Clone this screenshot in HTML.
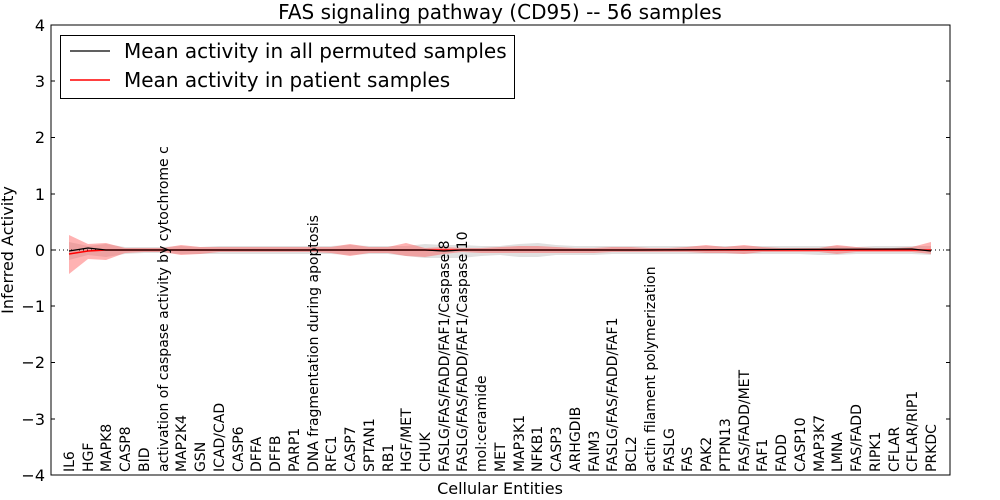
<!DOCTYPE html>
<html><head><meta charset="utf-8"><style>body{margin:0;background:#fff}svg{display:block}text{font-family:"DejaVu Sans",sans-serif}</style></head><body>
<svg width="1000" height="500" xmlns="http://www.w3.org/2000/svg">
<rect width="1000" height="500" fill="#fff"/>
<text x="500" y="19" font-size="20" text-anchor="middle">FAS signaling pathway (CD95) -- 56 samples</text>
<path d="M69,242 L88,246 L106,244 L125,247 L144,247 L163,247 L181,246 L200,247 L219,246 L238,246 L256,246 L275,246 L294,246 L313,246 L331,246 L350,245 L369,246 L388,246 L406,246 L425,244 L444,245 L462,245 L481,246 L500,246 L519,244 L538,243 L556,245 L575,246 L594,246 L612,246 L631,246 L650,246 L669,246 L687,246 L706,246 L725,246 L744,246 L762,246 L781,246 L800,246 L819,246 L837,246 L856,247 L875,246 L894,246 L912,246 L931,246 L931,255 L912,254 L894,254 L875,254 L856,254 L837,255 L819,255 L800,254 L781,254 L762,254 L744,254 L725,254 L706,254 L687,254 L669,254 L650,254 L631,254 L612,254 L594,255 L575,255 L556,255 L538,257 L519,257 L500,255 L481,256 L462,258 L444,258 L425,258 L406,256 L388,254 L369,254 L350,255 L331,254 L313,254 L294,254 L275,254 L256,254 L238,254 L219,254 L200,254 L181,254 L163,253 L144,253 L125,254 L106,257 L88,255 L69,260 Z" fill="#ccc" opacity="0.6"/>
<path d="M69,235 L88,244 L106,243 L125,248 L144,248 L163,248 L181,245 L200,247 L219,247 L238,247 L256,247 L275,247 L294,247 L313,247 L331,247 L350,244 L369,247 L388,247 L406,243 L425,248 L444,247 L462,248 L481,248 L500,247 L519,246 L538,246 L556,247 L575,248 L594,248 L612,247 L631,247 L650,248 L669,248 L687,247 L706,245 L725,247 L744,245 L762,247 L781,248 L800,248 L819,248 L837,245 L856,247 L875,248 L894,248 L912,247 L931,242 L931,254 L912,252 L894,252 L875,252 L856,252 L837,254 L819,252 L800,252 L781,252 L762,252 L744,254 L725,253 L706,253 L687,252 L669,252 L650,252 L631,252 L612,252 L594,253 L575,253 L556,253 L538,253 L519,253 L500,253 L481,253 L462,252 L444,254 L425,257 L406,256 L388,253 L369,253 L350,256 L331,253 L313,252 L294,252 L275,252 L256,252 L238,252 L219,252 L200,254 L181,255 L163,252 L144,252 L125,253 L106,260 L88,259 L69,274 Z" fill="#f55" opacity="0.45"/>
<line x1="51" y1="250" x2="950" y2="250" stroke="#000" stroke-dasharray="1,3" stroke-width="1"/>
<polyline points="69,254 88,251 106,250 125,250 931,250" fill="none" stroke="red" stroke-width="1.5"/>
<polyline points="69,251 88,248 106,250 125,250 425,250 444,251 462,250 612,250 631,250 912,249 931,251" fill="none" stroke="#000" stroke-width="1.2"/>
<rect x="51" y="25" width="899" height="450" fill="none" stroke="#000" stroke-width="1"/>
<g stroke="#000">
<line x1="51" y1="81" x2="55" y2="81"/><line x1="51" y1="137.5" x2="55" y2="137.5"/><line x1="51" y1="194" x2="55" y2="194"/><line x1="51" y1="250" x2="55" y2="250"/><line x1="51" y1="306" x2="55" y2="306"/><line x1="51" y1="362.5" x2="55" y2="362.5"/><line x1="51" y1="419" x2="55" y2="419"/>
<line x1="950" y1="81" x2="946" y2="81"/><line x1="950" y1="137.5" x2="946" y2="137.5"/><line x1="950" y1="194" x2="946" y2="194"/><line x1="950" y1="250" x2="946" y2="250"/><line x1="950" y1="306" x2="946" y2="306"/><line x1="950" y1="362.5" x2="946" y2="362.5"/><line x1="950" y1="419" x2="946" y2="419"/>
</g>
<g font-size="16" text-anchor="end">
<text x="45" y="31">4</text><text x="45" y="87">3</text><text x="45" y="143">2</text><text x="45" y="200">1</text><text x="45" y="256">0</text><text x="45" y="312">−1</text><text x="45" y="368">−2</text><text x="45" y="425">−3</text><text x="45" y="481">−4</text>
</g>
<text transform="translate(13,250) rotate(-90)" font-size="16" text-anchor="middle">Inferred Activity</text>
<text x="500" y="494" font-size="16" text-anchor="middle">Cellular Entities</text>
<g font-size="14">
<text transform="translate(74,472) rotate(-90)">IL6</text>
<text transform="translate(93,472) rotate(-90)">HGF</text>
<text transform="translate(111,472) rotate(-90)">MAPK8</text>
<text transform="translate(130,472) rotate(-90)">CASP8</text>
<text transform="translate(149,472) rotate(-90)">BID</text>
<text transform="translate(168,472) rotate(-90)">activation of caspase activity by cytochrome c</text>
<text transform="translate(186,472) rotate(-90)">MAP2K4</text>
<text transform="translate(205,472) rotate(-90)">GSN</text>
<text transform="translate(224,472) rotate(-90)">ICAD/CAD</text>
<text transform="translate(243,472) rotate(-90)">CASP6</text>
<text transform="translate(261,472) rotate(-90)">DFFA</text>
<text transform="translate(280,472) rotate(-90)">DFFB</text>
<text transform="translate(299,472) rotate(-90)">PARP1</text>
<text transform="translate(318,472) rotate(-90)">DNA fragmentation during apoptosis</text>
<text transform="translate(336,472) rotate(-90)">RFC1</text>
<text transform="translate(355,472) rotate(-90)">CASP7</text>
<text transform="translate(374,472) rotate(-90)">SPTAN1</text>
<text transform="translate(393,472) rotate(-90)">RB1</text>
<text transform="translate(411,472) rotate(-90)">HGF/MET</text>
<text transform="translate(430,472) rotate(-90)">CHUK</text>
<text transform="translate(449,472) rotate(-90)">FASLG/FAS/FADD/FAF1/Caspase 8</text>
<text transform="translate(467,472) rotate(-90)">FASLG/FAS/FADD/FAF1/Caspase 10</text>
<text transform="translate(486,472) rotate(-90)">mol:ceramide</text>
<text transform="translate(505,472) rotate(-90)">MET</text>
<text transform="translate(524,472) rotate(-90)">MAP3K1</text>
<text transform="translate(542,472) rotate(-90)">NFKB1</text>
<text transform="translate(561,472) rotate(-90)">CASP3</text>
<text transform="translate(580,472) rotate(-90)">ARHGDIB</text>
<text transform="translate(599,472) rotate(-90)">FAIM3</text>
<text transform="translate(617,472) rotate(-90)">FASLG/FAS/FADD/FAF1</text>
<text transform="translate(636,472) rotate(-90)">BCL2</text>
<text transform="translate(655,472) rotate(-90)">actin filament polymerization</text>
<text transform="translate(674,472) rotate(-90)">FASLG</text>
<text transform="translate(692,472) rotate(-90)">FAS</text>
<text transform="translate(711,472) rotate(-90)">PAK2</text>
<text transform="translate(730,472) rotate(-90)">PTPN13</text>
<text transform="translate(749,472) rotate(-90)">FAS/FADD/MET</text>
<text transform="translate(767,472) rotate(-90)">FAF1</text>
<text transform="translate(786,472) rotate(-90)">FADD</text>
<text transform="translate(805,472) rotate(-90)">CASP10</text>
<text transform="translate(824,472) rotate(-90)">MAP3K7</text>
<text transform="translate(842,472) rotate(-90)">LMNA</text>
<text transform="translate(861,472) rotate(-90)">FAS/FADD</text>
<text transform="translate(880,472) rotate(-90)">RIPK1</text>
<text transform="translate(899,472) rotate(-90)">CFLAR</text>
<text transform="translate(917,472) rotate(-90)">CFLAR/RIP1</text>
<text transform="translate(936,472) rotate(-90)">PRKDC</text>
</g>
<rect x="60.5" y="35.5" width="454" height="63" fill="#fff" stroke="#000"/>
<line x1="70" y1="51" x2="110" y2="51" stroke="#000" stroke-width="1.2"/>
<line x1="70" y1="80" x2="110" y2="80" stroke="red" stroke-width="1.5"/>
<text x="124" y="58" font-size="20">Mean activity in all permuted samples</text>
<text x="124" y="87" font-size="20">Mean activity in patient samples</text>
</svg>
</body></html>
